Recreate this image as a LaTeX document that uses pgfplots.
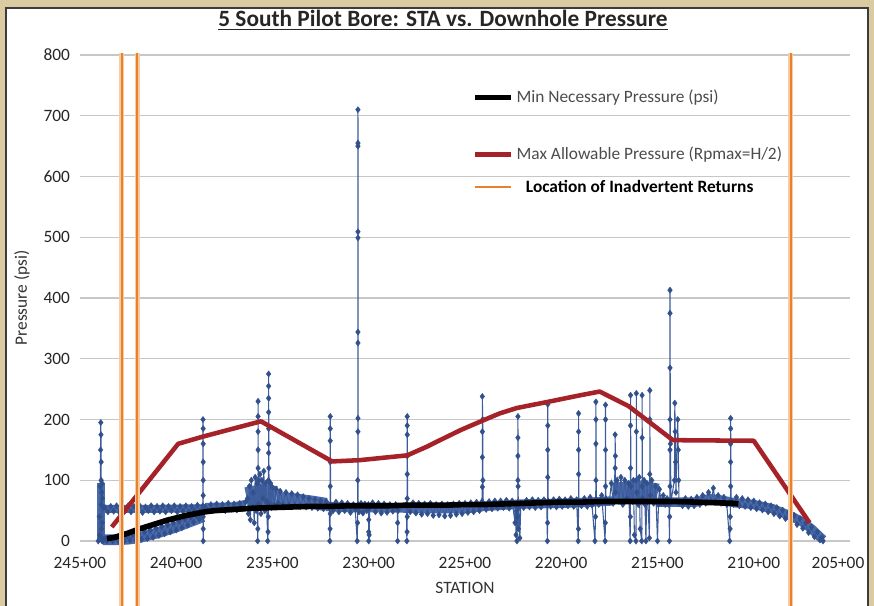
\documentclass[border=0pt]{standalone}
\usepackage{pgfplots}
\pgfplotsset{compat=1.18}
\usepackage{fontspec}
\setmainfont{Carlito}
\definecolor{tanbg}{RGB}{218,203,163}
\definecolor{frameline}{RGB}{60,60,60}
\definecolor{blueline}{RGB}{60,92,155}
\definecolor{blueband}{RGB}{74,106,172}
\definecolor{bluemark}{RGB}{50,80,140}
\definecolor{redline}{RGB}{165,35,40}
\definecolor{orangeline}{RGB}{232,128,44}
\definecolor{orangehalo}{RGB}{246,205,160}
\pgfplotsset{
  pdata/.style={color=blueline, line width=0.8pt, mark=diamond*, mark size=2.3pt, mark options={fill=bluemark, draw=bluemark, line width=0.3pt}, forget plot},
  pband/.style={color=blueband, line width=#1, no marks, line join=round, forget plot}
}
\begin{document}
\begin{tikzpicture}
\useasboundingbox (0pt,0pt) rectangle (655.5pt,-454.5pt);
\fill[tanbg] (0pt,0pt) rectangle (655.5pt,-454.5pt);
\fill[white] (4.5pt,-6pt) rectangle (651pt,-470pt);
\draw[frameline, line width=1.1pt] (4.5pt,-470pt) -- (4.5pt,-6pt) -- (651pt,-6pt) -- (651pt,-470pt);
\node[font=\fontsize{17.5}{20}\selectfont\bfseries, text=black!85] at (332.25pt,-15pt) {\underline{5 South Pilot Bore: STA vs. Downhole Pressure}};
\begin{axis}[
  at={(60pt,-405.75pt)}, anchor=south west,
  scale only axis, width=577.5pt, height=364.5pt,
  xmin=205, xmax=245, x dir=reverse,
  ymin=0, ymax=800,
  xtick={205,210,...,245},
  xticklabels={\makebox[0pt][c]{\hspace{-18pt}205+00},210+00,215+00,220+00,225+00,230+00,235+00,240+00,245+00},
  ytick={0,100,...,800},
  /pgf/number format/assume math mode=true,
  ymajorgrids, grid style={color=black!22, line width=0.8pt},
  axis line style={draw=none},
  tick style={draw=none},
  clip=false, clip marker paths=true,
  font=\fontsize{13}{15}\selectfont,
  ticklabel style={text=black!85},
  xticklabel style={yshift=-8.5pt},
  yticklabel style={xshift=-4pt},
  xlabel={STATION}, ylabel={Pressure (psi)},
  xlabel style={at={(axis description cs:0.5,-0.0967)}, anchor=center, text=black!80},
  ylabel style={at={(axis description cs:-0.0753,0.5)}, anchor=center, text=black!80},
  legend style={at={(0.504,0.939)}, anchor=north west, draw=none, fill=none, text=black!70, row sep=10pt, font=\fontsize{13}{15}\selectfont},
  legend cell align=left,
  legend image code/.code={\draw[#1] (0pt,0pt) -- (27pt,0pt);},
]
% ---------------- dense bands of readings (band centre lines) ----------------
\addplot[pband=6pt] coordinates {(243.9,0)(243.9,95)};
\addplot[pband=6pt] coordinates {(243.8,53)(241,53)(238.5,54)};
\addplot[pband=8pt] coordinates {(243.8,2)(243,2)(242.5,3)(242,5)(241.5,9)(241,13)(240.5,18)(240,23)(239.5,29)(239,35)(238.6,40)};
\addplot[pband=7pt] coordinates {(238.5,55)(237,56)(236.4,60)};
\addplot[pband=15pt] coordinates {(236.35,72)(235.9,75)(235.3,76)(234.8,74)};
\addplot[pband=10pt] coordinates {(234.8,70)(234,68)(233,64)(232.2,60)};
\addplot[pband=7pt] coordinates {(232.2,57)(231,55)(229,55)(227,53)(225,53)(224,57)(222,61)(220,62)(218.5,64)(217.3,66)};
\addplot[pband=16pt] coordinates {(217.3,78)(216.5,81)(215.8,82)(215.0,77)};
\addplot[pband=7pt] coordinates {(215.0,64)(214,64)(213,64)(212.3,70)(211.8,68)(211,63)(210,60)(209,53)(208,40)(207.5,32)(207,20)(206.6,8)(206.4,2)};
% ---------------- downhole pressure readings (blue) ----------------
\addplot[pdata] coordinates {
(244.05,0)(244.0,40)(243.98,10)(243.95,90)(243.93,150)(243.92,195)(243.91,175)(243.9,130)(243.9,100)(243.89,60)(243.88,20)(243.87,80)(243.86,5)(243.85,95)(243.84,30)(243.83,70)(243.82,0)(243.8,55)
(243.7,55)(243.55,48)(243.4,57)(243.25,49)(243.1,58)(242.95,47)(242.8,56)(242.65,50)(242.5,58)(242.35,48)(242.2,57)(242.05,49)(241.9,58)(241.75,47)(241.6,56)(241.45,50)(241.3,58)(241.15,48)(241.0,57)(240.85,49)(240.7,58)(240.55,48)(240.4,57)(240.25,50)(240.1,58)(239.95,48)(239.8,57)(239.65,49)(239.5,58)(239.35,48)(239.2,57)(239.05,50)(238.9,59)(238.75,49)
(238.62,58)(238.61,200)(238.6,185)(238.6,160)(238.6,130)(238.6,100)(238.6,75)(238.6,40)(238.6,20)(238.6,0)(238.58,52)
(238.5,56)(238.35,50)(238.2,60)(238.05,51)(237.9,61)(237.75,52)(237.6,60)(237.45,50)(237.3,62)(237.15,52)(237.0,61)(236.85,51)(236.7,62)(236.55,53)(236.4,64)
(236.3,70)(236.25,45)(236.2,90)(236.15,35)(236.1,100)(236.05,55)(236.0,80)(235.95,30)(235.9,105)(235.85,50)(235.8,95)(235.77,0)(235.76,20)(235.75,60)(235.75,120)(235.75,150)(235.75,180)(235.75,205)(235.75,230)(235.74,100)(235.7,60)(235.65,110)(235.6,45)(235.55,100)(235.5,70)(235.45,115)(235.4,50)(235.35,95)(235.3,65)(235.25,0)(235.23,15)(235.22,40)(235.21,100)(235.2,145)(235.2,160)(235.2,185)(235.2,212)(235.2,235)(235.2,255)(235.2,275)(235.19,120)(235.15,60)(235.1,95)(235.05,55)(235.0,88)(234.9,60)(234.8,85)(234.7,62)(234.6,82)
(234.45,60)(234.3,80)(234.15,59)(234.0,78)(233.85,58)(233.7,76)(233.55,57)(233.4,73)(233.25,56)(233.1,70)(232.95,55)(232.8,68)(232.65,54)(232.5,66)(232.35,53)(232.2,65)
(232.05,55)(232.02,0)(232.01,20)(232.0,45)(232.0,90)(232.0,130)(232.0,165)(232.0,185)(232.0,205)(231.98,60)
(231.85,50)(231.7,64)(231.55,48)(231.4,63)(231.25,50)(231.1,62)(230.95,47)(230.8,60)(230.7,52)
(230.6,0)(230.58,30)(230.57,100)(230.56,180)(230.56,202)(230.56,326)(230.56,344)(230.56,499)(230.56,509)(230.56,650)(230.56,655)(230.56,710)(230.55,60)
(230.5,48)(230.4,62)(230.3,46)(230.2,61)(230.1,50)
(230.02,60)(230.0,35)(230.0,15)(230.0,0)(229.98,10)(229.95,55)
(229.8,63)(229.65,48)(229.5,62)(229.35,46)(229.2,61)(229.05,47)(228.9,60)(228.75,49)(228.6,60)
(228.52,55)(228.5,30)(228.5,0)(228.48,50)
(228.05,60)(228.02,0)(228.01,15)(228.0,40)(228.0,70)(228.0,110)(228.0,140)(228.0,175)(228.0,190)(228.0,205)(227.98,58)
(227.85,48)(227.7,63)(227.55,46)(227.4,62)(227.25,44)(227.1,61)(226.95,45)(226.8,62)(226.65,42)(226.5,60)(226.35,43)(226.2,61)(226.05,41)(225.9,60)(225.75,42)(225.6,61)(225.45,44)(225.3,62)(225.15,45)(225.0,62)(224.85,47)(224.7,63)(224.55,48)(224.4,64)(224.25,50)
(224.12,65)(224.1,89)(224.1,138)(224.1,180)(224.1,238)(224.08,200)(224.07,100)(224.05,62)
(223.9,52)(223.75,65)(223.6,53)(223.45,66)(223.3,54)(223.15,66)(223.0,55)(222.85,67)(222.7,54)(222.55,66)
(222.4,30)(222.38,60)(222.35,10)(222.33,50)(222.3,0)(222.28,40)(222.26,60)(222.25,100)(222.25,140)(222.25,170)(222.25,205)(222.24,90)(222.22,20)(222.2,55)(222.15,5)(222.1,62)
(221.95,55)(221.8,67)(221.65,56)(221.5,68)(221.35,55)(221.2,67)(221.05,56)(220.9,68)
(220.75,60)(220.72,0)(220.71,30)(220.7,60)(220.7,105)(220.7,150)(220.7,190)(220.7,225)(220.68,66)
(220.55,57)(220.4,68)(220.25,56)(220.1,69)(219.95,57)(219.8,68)(219.65,58)(219.5,70)(219.35,57)(219.2,68)
(219.12,0)(219.11,20)(219.1,60)(219.1,110)(219.1,150)(219.1,180)(219.1,210)(219.08,65)
(218.95,58)(218.8,70)(218.65,57)(218.5,72)(218.4,59)
(218.25,0)(218.22,40)(218.2,100)(218.2,160)(218.2,200)(218.2,229)(218.18,68)
(218.05,60)(217.9,75)
(217.72,0)(217.71,30)(217.7,90)(217.7,150)(217.7,200)(217.7,224)(217.68,70)
(217.5,65)(217.4,95)(217.3,62)
(217.2,120)(217.2,175)(217.19,140)(217.18,80)
(217.1,100)(217.0,65)(216.9,105)(216.8,60)(216.7,100)(216.6,70)(216.5,95)
(216.42,0)(216.41,40)(216.4,120)(216.4,190)(216.4,240)(216.38,90)
(216.3,65)(216.25,100)(216.2,10)
(216.12,0)(216.1,100)(216.1,180)(216.1,243)(216.08,80)
(216.0,60)(215.95,105)(215.9,20)
(215.82,0)(215.8,90)(215.8,170)(215.8,240)(215.78,70)
(215.7,100)(215.65,60)(215.6,0)(215.55,95)(215.5,65)
(215.42,5)(215.4,110)(215.4,200)(215.4,248)(215.38,75)
(215.3,100)(215.2,62)(215.1,90)(215.0,0)(214.95,60)(214.9,85)(214.8,62)(214.7,75)(214.6,60)(214.5,70)
(214.4,60)(214.38,0)(214.37,40)(214.35,90)(214.35,150)(214.35,200)(214.35,285)(214.35,375)(214.35,413)(214.33,160)(214.3,65)
(214.12,100)(214.1,227)(214.08,180)(214.06,130)(214.04,80)
(213.95,200)(213.92,150)(213.9,100)(213.88,62)
(213.7,58)(213.55,70)(213.4,57)(213.25,69)(213.1,58)(212.95,72)(212.8,60)(212.65,75)(212.5,62)(212.35,80)(212.2,65)(212.1,87)(212.0,65)(211.85,75)(211.7,62)(211.55,72)(211.4,60)
(211.25,0)(211.23,20)(211.22,40)(211.2,90)(211.2,130)(211.2,160)(211.2,185)(211.2,202)(211.18,66)
(211.05,60)(210.9,72)(210.75,58)(210.6,70)(210.45,57)(210.3,68)(210.15,55)(210.0,66)(209.85,53)(209.7,63)(209.55,51)(209.4,61)(209.25,48)(209.1,58)(208.95,45)(208.8,55)(208.65,41)(208.5,51)(208.35,37)(208.2,47)(208.05,32)(207.9,42)(207.75,27)(207.6,37)(207.45,21)(207.3,30)(207.15,14)(207.0,23)(206.85,7)(206.7,15)(206.55,2)(206.45,6)(206.4,0)
};
\addplot[pdata] coordinates {
(243.85,0)(243.7,4)(243.6,0)(243.45,5)(243.3,0)(243.15,6)(243.0,0)(242.85,7)(242.7,0)(242.55,8)(242.4,1)(242.25,10)(242.1,1)(241.95,12)(241.8,3)(241.65,15)(241.5,4)(241.35,18)(241.2,6)(241.05,21)(240.9,9)(240.75,24)(240.6,12)(240.45,27)(240.3,15)(240.15,30)(240.0,18)(239.85,33)(239.7,22)(239.55,36)(239.4,26)(239.25,39)(239.1,31)(238.95,42)(238.8,36)(238.65,45)
};
% ---------------- minimum necessary pressure ----------------
\addplot[color=black, line width=4.2pt, line join=round] coordinates {
(243.6,4)(243.2,6)(242.5,13)(242,19)(241.5,24)(241,29)(240.5,34)(240,38)(239.5,42)(239,45)(238.5,48)(238,50)(237,52)(236,54)(235,55)(234,56)(233,57)(232,57)(231,58)(230,58)(229,58)(228,59)(227,59)(226,59)(225,60)(224,60)(223,61)(222,62)(221,63)(220,64)(219,64)(218,65)(217,65)(216,65)(215,65)(214,65)(213,64)(212,63)(211,62)(210.8,61)
};
\addlegendentry{Min Necessary Pressure (psi)}
\addlegendimage{empty legend}
\addlegendentry{\rule{0pt}{2pt}}
% ---------------- maximum allowable pressure ----------------
\addplot[color=redline, line width=3.4pt, line join=round] coordinates {
(243.35,23)(239.9,160)(238.6,172)(235.6,197)(231.9,131)(230.5,133)(228.0,141)(227.0,155)(226.3,166)(225.2,183)(224.1,198)(223.2,210)(222.3,219)(220.7,229)(219.0,240)(218.0,246)(216.5,222)(214.2,166)(210.0,165)(207.1,30)
};
\addlegendentry{Max Allowable Pressure (Rpmax=H/2)}
% ---------------- inadvertent returns ----------------
\addplot[color=orangehalo, line width=3.6pt, forget plot] coordinates {(242.83,-140) (242.83,803)};
\addplot[color=orangehalo, line width=3.6pt, forget plot] coordinates {(242.02,-140) (242.02,803)};
\addplot[color=orangehalo, line width=3.6pt, forget plot] coordinates {(208.08,-140) (208.08,803)};
\addplot[color=orangeline, line width=1.5pt] coordinates {(242.83,-140) (242.83,803)};
\addlegendentry{\hspace{7pt}\textcolor{black}{\bfseries Location of Inadvertent Returns}}
\addplot[color=orangeline, line width=1.5pt, forget plot] coordinates {(242.02,-140) (242.02,803)};
\addplot[color=orangeline, line width=1.5pt, forget plot] coordinates {(208.08,-140) (208.08,803)};
\end{axis}
\end{tikzpicture}
\end{document}
